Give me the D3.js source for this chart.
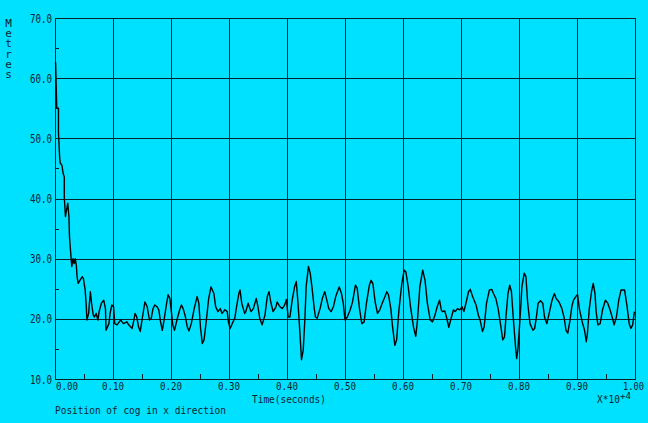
<!DOCTYPE html>
<html><head><meta charset="utf-8">
<script src="https://cdn.jsdelivr.net/npm/d3@7"></script>
<style>
html,body{margin:0;padding:0;background:#00e0ff;}
svg{display:block;}
text{font-family:"DejaVu Sans Mono",monospace;fill:#0a2530;}
</style></head>
<body>
<svg id="chart" width="648" height="423"></svg>
<script>
// Time values in units of 10^4 seconds
const time = [0.001,0.002,0.003,0.006,0.006,0.008,0.009,0.012,0.014,0.016,0.016,0.018,0.019,0.022,0.024,0.025,0.028,0.029,0.031,0.033,0.035,0.037,0.038,0.040,0.043,0.047,0.049,0.052,0.054,0.055,0.058,0.061,0.063,0.066,0.068,0.071,0.074,0.076,0.080,0.084,0.087,0.088,0.093,0.095,0.098,0.101,0.103,0.107,0.113,0.118,0.124,0.127,0.133,0.136,0.138,0.141,0.144,0.147,0.150,0.155,0.159,0.162,
0.163,0.166,0.169,0.172,0.176,0.179,0.182,0.185,0.188,0.192,0.195,0.198,0.201,0.203,0.206,0.211,0.215,0.218,0.221,0.225,0.228,0.231,0.235,0.240,0.245,0.248,0.251,0.254,0.257,0.261,0.265,0.269,0.274,0.277,0.281,0.285,0.288,0.293,0.297,0.299,0.302,0.307,0.310,0.313,0.317,0.319,0.322,0.327,
0.329,0.333,0.336,0.338,0.342,0.347,0.350,0.353,0.357,0.362,0.366,0.369,0.372,0.376,0.381,0.383,0.388,0.392,0.396,0.399,0.402,0.405,0.409,0.413,0.416,0.419,0.422,0.425,0.428,0.431,0.433,0.437,0.440,0.443,0.447,0.449,0.452,0.457,0.461,0.465,0.468,0.472,0.476,0.480,0.484,0.490,0.494,0.497,
0.500,0.504,0.509,0.513,0.518,0.521,0.525,0.529,0.533,0.537,0.542,0.545,0.548,0.552,0.556,0.560,0.565,0.569,0.572,0.575,0.579,0.582,0.586,0.589,0.593,0.598,0.602,0.605,0.609,0.613,0.618,0.622,0.625,0.629,0.634,0.638,0.642,0.647,0.651,0.655,0.659,
0.663,0.666,0.668,0.672,0.675,0.679,0.683,0.687,0.690,0.694,0.698,0.702,0.705,0.709,0.713,0.716,0.720,0.726,0.730,0.733,0.737,0.740,0.744,0.749,0.753,0.756,0.760,0.764,0.768,0.772,0.775,0.778,0.781,0.784,0.787,0.790,0.794,0.796,0.798,0.802,0.805,0.809,0.812,0.815,0.819,0.824,
0.827,0.830,0.833,0.837,0.841,0.844,0.848,0.852,0.857,0.861,0.864,0.869,0.874,0.878,0.881,0.884,0.888,0.891,0.894,0.898,0.901,0.904,0.909,0.913,0.916,0.918,0.921,0.925,0.928,0.931,0.933,0.936,0.940,0.944,0.949,0.953,0.957,0.962,0.964,0.968,0.972,0.976,0.982,0.986,0.990,0.993,0.996,0.999];
// Position of cog in x direction (metres)
const metres = [62.7,59.1,55.0,55.0,50.9,46.9,45.9,45.5,44.2,43.6,40.3,37.0,37.6,39.2,37.0,33.6,29.8,28.7,30.0,29.2,30.0,28.7,27.0,25.9,26.4,27.0,26.7,24.8,22.0,19.8,20.9,24.5,22.6,20.6,20.3,20.9,19.8,21.2,22.6,23.1,21.7,18.1,19.2,20.9,22.3,22.0,19.2,19.0,19.8,19.2,19.5,19.0,18.4,19.8,20.9,20.3,18.7,17.9,19.8,22.8,22.0,20.3,
19.8,20.1,21.7,22.3,22.0,21.5,19.5,18.1,19.8,22.3,24.0,23.4,20.9,19.0,18.1,20.1,21.5,22.3,21.7,20.3,18.7,18.0,19.2,21.7,23.7,22.6,18.4,15.9,16.5,19.8,23.4,25.3,24.2,22.0,21.2,21.7,20.9,21.5,21.2,19.5,18.4,19.5,20.1,22.0,24.2,24.8,22.6,20.9,
21.2,22.6,21.7,21.2,21.7,23.4,22.0,20.1,19.0,20.6,23.7,24.5,22.8,21.2,22.0,22.8,22.0,21.7,22.3,23.2,20.3,20.3,23.1,25.3,26.2,22.6,18.1,13.2,14.8,20.3,25.3,28.7,27.6,25.3,21.7,20.3,20.1,21.7,23.4,24.5,23.4,21.7,21.2,22.0,23.7,25.3,24.2,22.6,
19.8,20.3,21.5,22.8,25.6,25.1,21.7,19.2,19.5,22.6,25.6,26.4,25.9,22.8,20.9,21.5,22.8,23.7,24.5,24.0,21.7,18.7,15.6,16.5,21.5,25.9,28.1,27.8,25.3,22.0,18.7,17.1,19.8,25.3,28.1,26.4,22.6,19.8,19.5,20.6,22.0,
23.1,21.5,21.2,21.3,20.3,18.6,20.1,21.5,21.2,21.7,21.5,22.0,21.2,22.8,24.5,24.9,23.7,22.3,20.6,19.8,17.9,18.7,22.6,24.8,24.9,24.2,23.4,21.7,19.2,16.5,17.0,20.9,24.2,25.6,24.5,20.3,15.4,13.4,14.8,20.3,25.3,27.6,27.0,22.6,19.2,18.1,
18.4,20.3,22.6,23.0,22.6,20.3,19.2,20.9,23.1,24.2,23.4,22.8,21.7,20.1,18.1,17.6,19.8,22.0,23.1,23.7,24.0,21.7,19.5,18.1,16.2,17.6,21.5,24.5,25.9,24.2,21.2,19.0,19.2,21.5,23.1,22.6,21.5,19.8,19.0,20.3,23.1,24.8,24.8,22.3,19.2,18.4,19.0,21.2];
const xTicks = [0,0.1,0.2,0.3,0.4,0.5,0.6,0.7,0.8,0.9,1.0];
const xMinor = [0.05,0.15,0.25,0.35,0.45,0.55,0.65,0.75,0.85,0.95];
const yTicks = [10,20,30,40,50,60,70];
const yMinor = [15,25,35,45,55,65];

const svg = d3.select("#chart");
const L=55, R=635, T=18, B=379;
const x = d3.scaleLinear().domain([0,1]).range([L,R]);
const y = d3.scaleLinear().domain([10,70]).range([B,T]);
const gridCol = "#03222b";

svg.append("rect").attr("width",648).attr("height",423).attr("fill","#00e0ff");

// grid
svg.append("g").selectAll("line").data(xTicks.slice(1,-1)).join("line")
  .attr("x1",d=>Math.round(x(d))+0.5).attr("x2",d=>Math.round(x(d))+0.5)
  .attr("y1",T).attr("y2",B).attr("stroke",gridCol).attr("stroke-width",1);
svg.append("g").selectAll("line").data(yTicks.slice(1,-1)).join("line")
  .attr("y1",d=>Math.round(y(d))+0.5).attr("y2",d=>Math.round(y(d))+0.5)
  .attr("x1",L).attr("x2",R).attr("stroke",gridCol).attr("stroke-width",1);

// minor ticks
svg.append("g").selectAll("line").data(xMinor).join("line")
  .attr("x1",d=>Math.round(x(d))+0.5).attr("x2",d=>Math.round(x(d))+0.5)
  .attr("y1",B).attr("y2",B-5).attr("stroke",gridCol);
svg.append("g").selectAll("line").data(yMinor).join("line")
  .attr("y1",d=>Math.round(y(d))+0.5).attr("y2",d=>Math.round(y(d))+0.5)
  .attr("x1",L).attr("x2",L+4).attr("stroke",gridCol);

// frame
svg.append("rect").attr("x",L+0.5).attr("y",T+0.5).attr("width",R-L).attr("height",B-T)
  .attr("fill","none").attr("stroke",gridCol).attr("stroke-width",1);

// data line
const pts = time.map((t,i)=>[t,metres[i]]);
svg.append("path").datum(pts)
  .attr("d", d3.line().x(d=>x(d[0])).y(d=>y(d[1])))
  .attr("fill","none").attr("stroke","#000").attr("stroke-width",1.4).attr("stroke-linejoin","round");

// y tick labels
svg.append("g").selectAll("text").data(yTicks).join("text")
  .attr("x",52).attr("y",d=>y(d)+4.5).attr("text-anchor","end")
  .attr("font-size",12).attr("textLength",22).attr("lengthAdjust","spacingAndGlyphs")
  .text(d=>d.toFixed(1));

// x tick labels
svg.append("g").selectAll("text").data(xTicks).join("text")
  .attr("x",d=> d===0 ? x(d)+1 : (d===1 ? x(d)-12 : x(d)-11)).attr("y",389.5)
  .attr("font-size",11).attr("textLength",d=> d===1 ? 21 : 22).attr("lengthAdjust","spacingAndGlyphs")
  .text(d=>d.toFixed(2));

// y label as vertical stacked letters
svg.append("text").attr("x",8.5).attr("y",17)
  .attr("font-size",11)
  .style("writing-mode","vertical-rl").style("text-orientation","upright")
  .style("letter-spacing","-2.8px")
  .text("Metres");

svg.append("text").attr("x",252).attr("y",402.5).attr("font-size",11)
  .attr("textLength",74).attr("lengthAdjust","spacingAndGlyphs").text("Time(seconds)");
const sci = svg.append("text").attr("x",597).attr("y",403).attr("font-size",11);
sci.append("tspan").attr("textLength",23).attr("lengthAdjust","spacingAndGlyphs").text("X*10");
sci.append("tspan").attr("dy",-4.5).attr("font-size",8.5).attr("textLength",11).attr("lengthAdjust","spacingAndGlyphs").text("+4");
svg.append("text").attr("x",55).attr("y",413.5).attr("font-size",11)
  .attr("textLength",171).attr("lengthAdjust","spacingAndGlyphs").text("Position of cog in x direction");
</script>
</body></html>
